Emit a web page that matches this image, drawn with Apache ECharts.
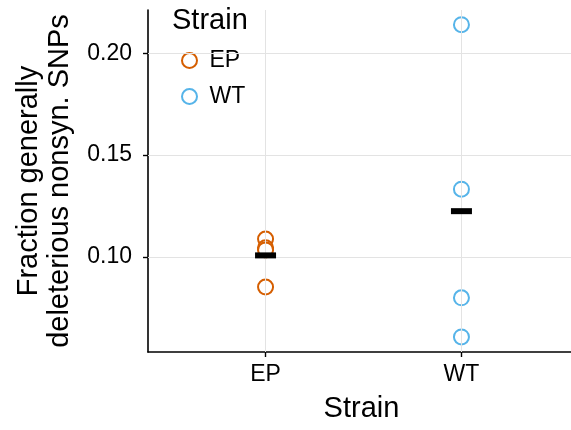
<!DOCTYPE html>
<html><head><meta charset="utf-8">
<script src="https://cdn.jsdelivr.net/npm/echarts@6/dist/echarts.min.js"></script>
<style>html,body{margin:0;padding:0;background:#fff}#c{width:571px;height:430px}</style>
</head><body><div id="c"></div>
<script>
const categories = ['EP', 'WT'];
const epValues = [0.1088, 0.1045, 0.1035, 0.0853];
const wtValues = [0.2140, 0.1333, 0.0800, 0.0608];
const means = [0.1008, 0.1225];
const yTicks = [0.10, 0.15, 0.20];
const seriesColors = { EP: '#D55E00', WT: '#56B4E9' };

const FONT = 'Liberation Sans, Arial, Helvetica, sans-serif';
const chart = echarts.init(document.getElementById('c'), null, { renderer: 'canvas' });
const xPos = v => categories.indexOf(v) + 1;

chart.setOption({
  animation: false,
  textStyle: { fontFamily: FONT },
  grid: { left: 148, width: 431, top: 10, bottom: 78, containLabel: false, outerBoundsMode: 'none' },
  legend: {
    orient: 'vertical', left: 176, top: 44, itemWidth: 30, itemHeight: 15, itemGap: 13,
    textStyle: { fontSize: 23, color: '#000', fontFamily: FONT },
    data: ['EP', 'WT'], selectedMode: false
  },
  title: { text: 'Strain', left: 172, top: 6, padding: 0, textStyle: { fontSize: 29, fontWeight: 'normal', color: '#000', fontFamily: FONT } },
  xAxis: {
    type: 'value', min: 0.4, max: 2.6,
    name: 'Strain', nameLocation: 'middle', nameGap: 42,
    nameTextStyle: { fontSize: 29, color: '#000', fontFamily: FONT, padding: [0, 4, 0, 0] },
    axisLine: { show: true, lineStyle: { color: '#000', width: 1.6 } },
    axisTick: { show: true, length: 5, customValues: [1, 2], lineStyle: { color: '#000', width: 1.4 } },
    axisLabel: { show: true, customValues: [1, 2], margin: 11, fontSize: 23, color: '#000', fontFamily: FONT,
      formatter: v => categories[Math.round(v) - 1] || '' },
    splitLine: { show: false }
  },
  yAxis: {
    type: 'value', min: 0.0534, max: 0.2212,
    name: 'Fraction generally\ndeleterious nonsyn. SNPs', nameLocation: 'middle', nameRotate: 90, nameGap: 73,
    nameTextStyle: { fontSize: 29, color: '#000', fontFamily: FONT, lineHeight: 31, align: 'center' },
    axisLine: { show: true, lineStyle: { color: '#000', width: 1.6 } },
    axisTick: { show: true, length: 5, customValues: yTicks, lineStyle: { color: '#000', width: 1.4 } },
    axisLabel: { show: true, customValues: yTicks, margin: 16, fontSize: 23, color: '#000', fontFamily: FONT,
      formatter: v => v.toFixed(2) },
    splitLine: { show: false }
  },
  series: [
    {
      name: 'grid', type: 'line', data: [], silent: true,
      markLine: {
        silent: true, symbol: 'none', label: { show: false },
        lineStyle: { color: '#e3e3e3', width: 1, type: 'solid' },
        data: yTicks.map(v => ({ yAxis: v })).concat(categories.map(c => ({ xAxis: xPos(c) })))
      }
    },
    {
      name: 'EP', type: 'scatter', symbol: 'emptyCircle', symbolSize: 15,
      itemStyle: { color: seriesColors.EP, borderColor: seriesColors.EP, borderWidth: 1.4, opacity: 1 },
      data: epValues.map(v => [xPos('EP'), v])
    },
    {
      name: 'WT', type: 'scatter', symbol: 'emptyCircle', symbolSize: 15,
      itemStyle: { color: seriesColors.WT, borderColor: seriesColors.WT, borderWidth: 1.4, opacity: 1 },
      data: wtValues.map(v => [xPos('WT'), v])
    },
    {
      name: 'mean', type: 'scatter', symbol: 'rect', symbolSize: [21, 6], z: 5,
      itemStyle: { color: '#000', opacity: 1 },
      data: categories.map((c, i) => [xPos(c), means[i]])
    }
  ]
});
</script></body></html>
